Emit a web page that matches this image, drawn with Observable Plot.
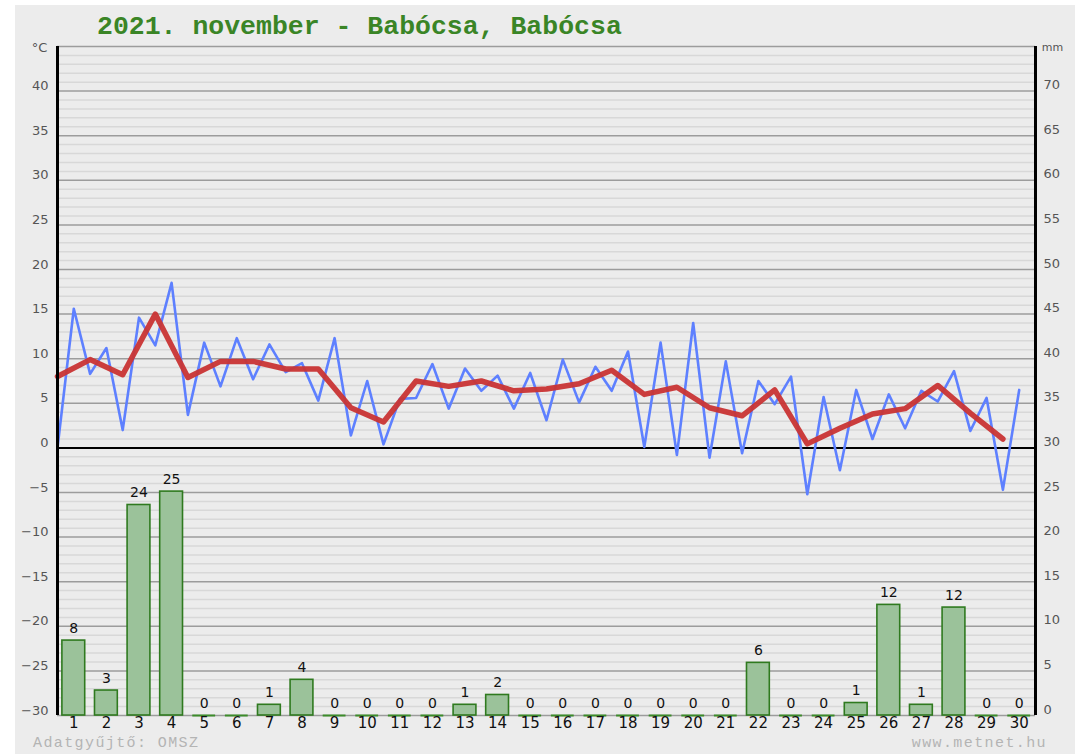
<!DOCTYPE html>
<html><head><meta charset="utf-8">
<script src="https://cdn.jsdelivr.net/npm/d3@7"></script>
<script src="https://cdn.jsdelivr.net/npm/@observablehq/plot@0.6"></script>
<style>
body{margin:0;background:#fff;}
#wrap{position:absolute;left:15px;top:5px;width:1060px;height:749px;background:#ececec;overflow:hidden}
#title{position:absolute;left:82px;top:7px;font:bold 26.5px "Liberation Mono",monospace;color:#3a8526;white-space:pre;line-height:30px}
#chart{position:absolute;left:0;top:0}
.foot{position:absolute;top:730px;font:15px "Liberation Mono",monospace;letter-spacing:1.4px;color:#b4b4b4;white-space:pre;line-height:17px}
</style></head><body>
<div id="wrap">
<div id="chart"></div>
<div id="title">2021. november - Babócsa, Babócsa</div>
<div class="foot" style="left:18px">Adatgyűjtő: OMSZ</div>
<div class="foot" style="right:28px">www.metnet.hu</div>
</div>
<script>
// Days of the month
const days = d3.range(1, 31);
// Half-daily temperature readings (°C), from day 0.5 to day 30
const tempHalfDay = [0.0, 15.6, 8.3, 11.2, 2.0, 14.6, 11.5, 18.5, 3.7, 11.8,
  6.9, 12.3, 7.7, 11.6, 8.5, 9.5, 5.3, 12.3, 1.4, 7.5,
  0.4, 5.5, 5.6, 9.4, 4.4, 8.9, 6.4, 8.1, 4.4, 8.4,
  3.1, 9.9, 5.1, 9.1, 6.4, 10.8, 0.1, 11.8, -0.8, 14.0,
  -1.1, 9.7, -0.6, 7.5, 4.9, 8.0, -5.2, 5.7, -2.5, 6.5,
  1.0, 6.0, 2.2, 6.4, 5.2, 8.6, 1.9, 5.6, -4.7, 6.5];
// Daily mean temperature (°C)
const tempDaily = [8.0, 9.9, 8.2, 15.0, 7.9, 9.7, 9.7, 8.85, 8.85, 4.5,
  2.9, 7.5, 6.9, 7.5, 6.4, 6.6, 7.2, 8.7, 6.0, 6.8,
  4.5, 3.6, 6.5, 0.45, 2.2, 3.8, 4.4, 7.0, 3.9, 1.0];
// Daily precipitation (mm)
const precip = [8.4, 2.8, 23.6, 25.1, 0, 0, 1.2, 4.0, 0, 0,
  0, 0, 1.2, 2.3, 0, 0, 0, 0, 0, 0,
  0, 5.9, 0, 0, 1.4, 12.4, 1.2, 12.1, 0, 0];
const precipLabels = ["8","3","24","25","0","0","1","4","0","0",
  "0","0","1","2","0","0","0","0","0","0",
  "0","6","0","0","1","12","1","12","0","0"];
// Axis ticks
const tempTicks = d3.range(-30, 41, 5);
const mmOffset = 30; // 0 mm sits at -30 °C
const tempMin = -30, tempMax = 45;

const blue = tempHalfDay.map((t, k) => ({x: 0.5 + k / 2, t}));
const red = tempDaily.map((t, i) => ({x: 0.5 + i, t}));
const bars = days.map((d, i) => ({day: d, mm: precip[i], label: precipLabels[i]}));
const minor = d3.range(tempMin, tempMax + 1).filter(v => v % 5 !== 0);
const major = d3.range(tempMin, tempMax + 1, 5).filter(v => v !== 0);
const halfW = 0.35;
const green = "#2f7a1f";

const chart = Plot.plot({
  width: 1060, height: 749,
  marginLeft: 42, marginRight: 40, marginTop: 41, marginBottom: 39,
  style: {fontFamily: "DejaVu Sans", background: "transparent", overflow: "visible"},
  x: {domain: [0.5, 30.5]},
  y: {domain: [tempMin, tempMax]},
  marks: [
    Plot.ruleY(minor, {stroke: "#d8d8d8", strokeWidth: 1.5}),
    Plot.ruleY(major, {stroke: "#9c9c9c", strokeWidth: 1.5}),
    Plot.rectY(bars.filter(d => d.mm > 0), {
      x1: d => d.day - halfW, x2: d => d.day + halfW,
      y1: () => tempMin, y2: d => d.mm - mmOffset,
      fill: "#9bc29a", stroke: green, strokeWidth: 1.6
    }),
    Plot.ruleY(bars.filter(d => d.mm === 0), {
      x1: d => d.day - halfW, x2: d => d.day + halfW, y: () => tempMin,
      stroke: "#3c8c2a", strokeWidth: 2
    }),
    Plot.text(bars, {x: "day", y: d => d.mm - mmOffset, text: "label", dy: -12, fontSize: 14, fill: "#111"}),
    Plot.ruleY([0], {stroke: "#000", strokeWidth: 2}),
    Plot.line(blue, {x: "x", y: "t", stroke: "#5e80ff", strokeWidth: 2.6}),
    Plot.line(red, {x: "x", y: "t", stroke: "#c93434", strokeWidth: 5.5, strokeOpacity: 0.95}),
    Plot.ruleX([0.5, 30.5], {y1: () => tempMin, y2: () => tempMax, stroke: "#000", strokeWidth: 3}),
    Plot.axisY(tempTicks, {anchor: "left", tickSize: 0, tickPadding: 9, dy: -5, fontSize: 13, fill: "#555", label: null}),
    Plot.axisY(tempTicks, {anchor: "right", tickSize: 0, tickPadding: 8, dy: -6, fontSize: 13, fill: "#555", label: null, tickFormat: d => String(d + mmOffset)}),
    Plot.axisX(days, {anchor: "bottom", tickSize: 0, tickPadding: 2, fontSize: 15, fill: "#111", label: null}),
    Plot.text(["°C"], {frameAnchor: "top-left", textAnchor: "middle", dx: -18, dy: -4, fontSize: 13, fill: "#555"}),
    Plot.text(["mm"], {frameAnchor: "top-right", textAnchor: "middle", dx: 17, dy: -3, fontSize: 11, fill: "#555"})
  ]
});
document.getElementById("chart").append(chart);
</script>
</body></html>
